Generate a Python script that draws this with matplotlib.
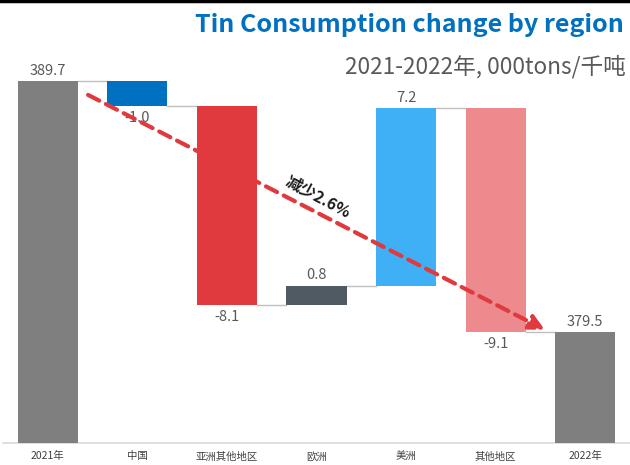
import matplotlib
matplotlib.use("Agg")
import matplotlib.pyplot as plt
import numpy as np

plt.rcParams['font.family'] = ['Noto Sans CJK SC', 'DejaVu Sans']

categories = ["2021年", "中国", "亚洲其他地区", "欧洲", "美洲", "其他地区", "2022年"]
start_total = 389.7
changes = [-1.0, -8.1, 0.8, 7.2, -9.1]
end_total = 379.5
colors = ["#7f7f7f", "#0070c0", "#e0393e", "#505a62", "#3fb0f5", "#ec8a8e", "#7f7f7f"]

y0 = 375.0
px_per_unit = 24.6

# waterfall geometry
bottoms, heights, labels = [y0], [start_total - y0], [f"{start_total:.1f}"]
running = start_total
levels = [start_total]
for c in changes:
    new = running + c
    bottoms.append(min(running, new))
    heights.append(abs(c))
    labels.append(f"{c:.1f}")
    running = new
    levels.append(running)
bottoms.append(y0)
heights.append(end_total - y0)
labels.append(f"{end_total:.1f}")

fig = plt.figure(figsize=(6.3, 4.65), dpi=100)
ax = fig.add_axes([3 / 630, 22 / 465, 627 / 630, 443 / 465])
x = np.arange(len(categories))
w = 0.67
ax.bar(x, heights, bottom=bottoms, width=w, color=colors, zorder=3)
ax.set_xlim(-0.5, len(categories) - 0.5)
ax.set_ylim(y0, y0 + 443 / px_per_unit)

# connectors
for i, lv in enumerate(levels):
    ax.plot([i + w / 2, i + 1 - w / 2], [lv, lv], color="#bfbfbf", lw=1, zorder=2)

# value labels
for i, (b, h, lab) in enumerate(zip(bottoms, heights, labels)):
    neg = lab.startswith("-")
    if neg:
        ax.text(i, b - 0.2, lab, ha="center", va="top", fontsize=10.5, color="#595959")
    else:
        ax.text(i, b + h + 0.15, lab, ha="center", va="bottom", fontsize=10.5, color="#595959")

ax.set_xticks(x)
ax.set_xticklabels(categories, fontsize=7.5, color="#404040")
ax.tick_params(axis="x", length=0, pad=6)
ax.set_yticks([])
for s in ["top", "right", "left"]:
    ax.spines[s].set_visible(False)
ax.spines["bottom"].set_color("#d9d9d9")
ax.spines["bottom"].set_linewidth(1.2)
ax.patch.set_alpha(0)

# trend arrow
ax.annotate("", xy=(5.55, end_total + 0.1), xytext=(0.45, start_total - 0.55),
            arrowprops=dict(arrowstyle="-|>,head_length=0.9,head_width=0.45",
                            color="#e0393e", lw=3, linestyle=(0, (3, 1.8)),
                            shrinkA=0, shrinkB=0), zorder=5)
pct = (end_total - start_total) / start_total * 100
ax.text(3.02, 385.0, f"减少{abs(pct):.1f}%", rotation=-28, ha="center", va="center",
        fontsize=11.5, fontweight="bold", color="#1a1a1a", zorder=6)

fig.text(624 / 630, 1 - 25 / 465, "Tin Consumption change by region", ha="right", va="center",
         fontsize=18, fontweight="bold", color="#0070c0")
fig.text(626 / 630, 1 - 67 / 465, "2021-2022年, 000tons/千吨", ha="right", va="center",
         fontsize=16.3, color="#595959")

fig.add_artist(plt.Line2D([0, 1], [1 - 1.5 / 465, 1 - 1.5 / 465], color="black", lw=2.5,
                          transform=fig.transFigure))

fig.savefig("out.png", dpi=100)
